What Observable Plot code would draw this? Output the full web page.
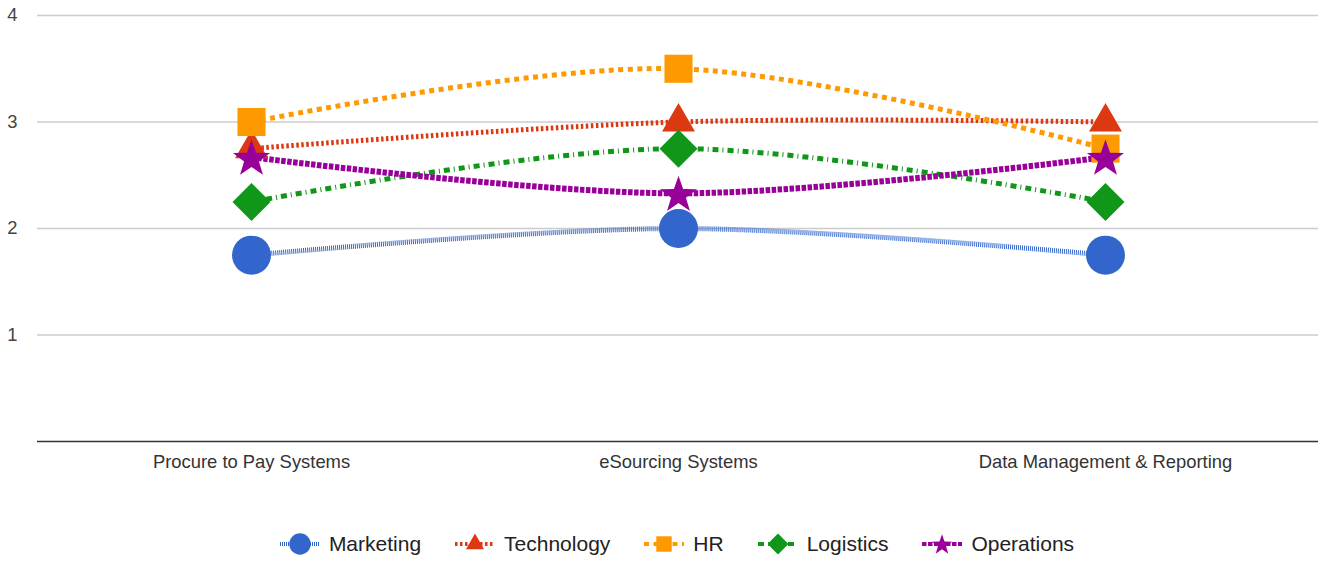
<!DOCTYPE html>
<html>
<head>
<meta charset="utf-8">
<script src="https://cdn.jsdelivr.net/npm/d3@7"></script>
<script src="https://cdn.jsdelivr.net/npm/@observablehq/plot@0.6"></script>
<style>
  html, body { margin: 0; padding: 0; background: #fff; }
  body { width: 1322px; height: 562px; overflow: hidden; font-family: "Liberation Sans", Arial, sans-serif; }
  #legend { display: flex; justify-content: center; align-items: center; height: 57px; margin-top: 10px; margin-left: 32px; }
  .item { display: flex; align-items: center; margin-right: 34px; font-size: 21px; color: #222; }
  .item:last-child { margin-right: 0; }
  .item svg { margin-right: 9px; overflow: visible; }
</style>
</head>
<body>
<div id="chart"></div>
<div id="legend"></div>
<script>
const categories = ["Procure to Pay Systems", "eSourcing Systems", "Data Management & Reporting"];
const seriesNames = ["Marketing", "Technology", "HR", "Logistics", "Operations"];
const marketing = [1.75, 2, 1.75];
const technology = [2.75, 3, 3];
const hr = [3, 3.5, 2.75];
const logistics = [2.25, 2.75, 2.25];
const operations = [2.67, 2.33, 2.67];
const yTicks = [1, 2, 3, 4];
const colors = ["#3366cc", "#dc3912", "#ff9900", "#109618", "#990099"];

const seriesValues = [marketing, technology, hr, logistics, operations];
const data = seriesNames.flatMap((s, i) =>
  categories.map((c, j) => ({series: s, category: c, value: seriesValues[i][j]})));

// custom marker shapes (r = sqrt(size / PI))
const rad = (size) => Math.sqrt(size / Math.PI);
const shapes = {
  circle: {draw(ctx, size) { const r = rad(size); ctx.moveTo(r, 0); ctx.arc(0, 0, r, 0, 2 * Math.PI); ctx.closePath(); }},
  triangle: {draw(ctx, size) { const r = rad(size); const w = r * Math.sqrt(3) / 2;
    ctx.moveTo(0, -r); ctx.lineTo(w, r / 2); ctx.lineTo(-w, r / 2); ctx.closePath(); }},
  square: {draw(ctx, size) { const h = rad(size) * 0.72; ctx.rect(-h, -h, 2 * h, 2 * h); }},
  diamond: {draw(ctx, size) { const r = rad(size);
    ctx.moveTo(0, -r); ctx.lineTo(r, 0); ctx.lineTo(0, r); ctx.lineTo(-r, 0); ctx.closePath(); }},
  star: {draw(ctx, size) { const R = rad(size), ri = R * 0.4;
    for (let k = 0; k < 10; k++) { const a = -Math.PI / 2 + k * Math.PI / 5; const rr = k % 2 ? ri : R;
      const x = rr * Math.cos(a), y = rr * Math.sin(a) + R * 0.1; k ? ctx.lineTo(x, y) : ctx.moveTo(x, y); }
    ctx.closePath(); }}
};
const symbolList = [shapes.circle, shapes.triangle, shapes.square, shapes.diamond, shapes.star];
const markerR = [19.5, 19, 19.5, 19, 19.5];
const dashes = ["1,1", "2.5,2.5", "5,4.5", "6,4,1,4", "4.5,1.5"];
const widths = [5, 5, 5, 5, 6];

const lineMarks = seriesNames.map((s, i) => Plot.line(data, {
  filter: d => d.series === s, x: "category", y: "value",
  stroke: colors[i], strokeWidth: widths[i], strokeDasharray: dashes[i],
  strokeLinecap: "butt", strokeLinejoin: "miter",
  curve: "catmull-rom"
}));
const dotMarks = seriesNames.map((s, i) => Plot.dot(data, {
  filter: d => d.series === s, x: "category", y: "value",
  symbol: symbolList[i], r: markerR[i], fill: colors[i], stroke: "none"
}));

const chart = Plot.plot({
  width: 1322,
  height: 505,
  marginTop: 15,
  marginBottom: 64,
  marginLeft: 37,
  marginRight: 4,
  style: {fontFamily: "Liberation Sans, Arial, sans-serif", fontSize: "18px", color: "#444", background: "#fff"},
  x: {type: "point", domain: categories, padding: 0.5, label: null, tickSize: 0, tickPadding: 13},
  y: {domain: [0, 4], ticks: yTicks, label: null, tickSize: 0, tickPadding: 20},
  marks: [
    Plot.ruleY(yTicks, {stroke: "#cccccc", strokeWidth: 1.3}),
    Plot.ruleY([0], {stroke: "#333333", strokeWidth: 1.5}),
    Plot.axisY({ticks: yTicks, tickFormat: d3.format("d"), tickSize: 0, tickPadding: 20, label: null, fontSize: 18.4, fill: "#444"}),
    Plot.axisX({tickSize: 0, tickPadding: 13, label: null, fontSize: 18.4, fill: "#333"}),
    ...lineMarks,
    ...dotMarks
  ]
});
document.getElementById("chart").appendChild(chart);

// legend
const legend = d3.select("#legend");
seriesNames.forEach((s, i) => {
  const item = legend.append("div").attr("class", "item");
  const svg = item.append("svg").attr("width", 40).attr("height", 24).attr("viewBox", "-20 -12 40 24");
  svg.append("line").attr("x1", -20).attr("x2", 20).attr("y1", 0).attr("y2", 0)
    .attr("stroke", colors[i]).attr("stroke-width", 4).attr("stroke-dasharray", dashes[i]);
  const size = Math.PI * Math.pow(markerR[i] * 0.55, 2);
  svg.append("path").attr("d", d3.symbol(symbolList[i], size)()).attr("fill", colors[i]);
  item.append("span").text(s);
});
</script>
</body>
</html>
